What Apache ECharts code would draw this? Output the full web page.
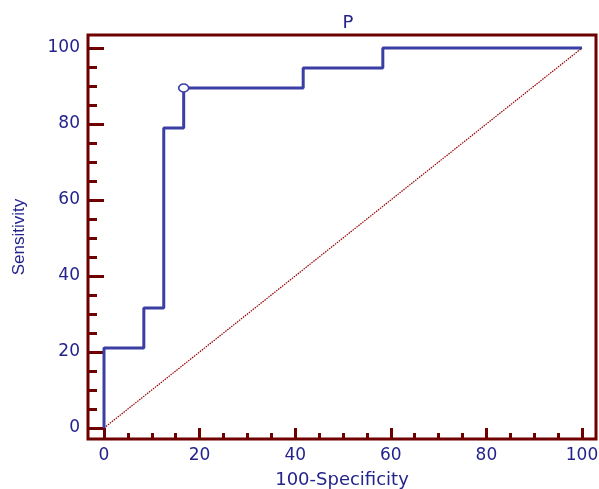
<!DOCTYPE html>
<html>
<head>
<meta charset="utf-8">
<script src="https://cdn.jsdelivr.net/npm/echarts@6/dist/echarts.min.js"></script>
<style>
  html, body { margin: 0; padding: 0; background: #fff; }
  #chart { width: 599px; height: 489px; }
</style>
</head>
<body>
<div id="chart"></div>
<script>
// ROC curve points (100-Specificity, Sensitivity)
const rocX = [0, 0, 8.33, 8.33, 12.5, 12.5, 16.67, 16.67, 41.67, 41.67, 58.33, 58.33, 100];
const rocY = [0, 21.05, 21.05, 31.58, 31.58, 78.95, 78.95, 89.47, 89.47, 94.74, 94.74, 100, 100];
// optimal criterion point
const cutX = [16.67];
const cutY = [89.47];
// reference diagonal
const diagX = [0, 100];
const diagY = [0, 100];
const majorTicks = [0, 20, 40, 60, 80, 100];
const minorTicks = [5, 10, 15, 25, 30, 35, 45, 50, 55, 65, 70, 75, 85, 90, 95];

const maroon = '#6e0000';
const navy = '#23238c';
const blue = '#3b3fa3';
const font = 'DejaVu Sans';

function zip(xs, ys) {
  return xs.map((x, i) => [x, ys[i]]);
}

function axis(dim, major) {
  const isX = dim === 'x';
  const a = {
    type: 'value',
    position: isX ? 'bottom' : 'left',
    min: isX ? -3.35 : -2.9,
    max: isX ? 102.93 : 103.42,
    splitLine: { show: false },
    axisLine: { show: false, onZero: false },
    axisTick: {
      show: true,
      inside: true,
      customValues: major ? majorTicks : minorTicks,
      length: isX ? (major ? 11 : 6) : (major ? 16 : 9),
      lineStyle: { color: maroon, width: 3 }
    },
    axisLabel: {
      show: major,
      customValues: majorTicks,
      color: navy,
      fontFamily: font,
      fontSize: 17,
      margin: 8
    }
  };
  if (major) {
    a.name = isX ? '100-Specificity' : 'Sensitivity';
    a.nameLocation = 'middle';
    a.nameGap = isX ? 32 : 60;
    a.nameTextStyle = isX
      ? { color: navy, fontFamily: font, fontSize: 18 }
      : { color: navy, fontFamily: 'Liberation Sans', fontSize: 17 };
  }
  return a;
}

const chart = echarts.init(document.getElementById('chart'));
chart.setOption({
  animation: false,
  title: {
    text: 'P',
    left: 343,
    textAlign: 'center',
    top: 9,
    textStyle: { color: navy, fontFamily: font, fontSize: 18, fontWeight: 'normal' }
  },
  grid: {
    left: 88, right: 3, top: 35, bottom: 50,
    outerBoundsMode: 'none',
    show: true,
    borderColor: maroon,
    borderWidth: 3,
    backgroundColor: '#fff'
  },
  xAxis: [axis('x', true), axis('x', false)],
  yAxis: [axis('y', true), axis('y', false)],
  series: [
    {
      type: 'line',
      data: zip(diagX, diagY),
      showSymbol: false,
      lineStyle: { color: '#960000', width: 1.2, type: [1.5, 1] },
      z: 1
    },
    {
      type: 'line',
      data: zip(rocX, rocY),
      showSymbol: false,
      lineStyle: { color: blue, width: 3 },
      z: 2
    },
    {
      type: 'scatter',
      data: zip(cutX, cutY),
      symbol: 'circle',
      symbolSize: [10, 8],
      itemStyle: { color: '#fff', borderColor: blue, borderWidth: 1.5, opacity: 1 },
      z: 3
    }
  ]
});
</script>
</body>
</html>
